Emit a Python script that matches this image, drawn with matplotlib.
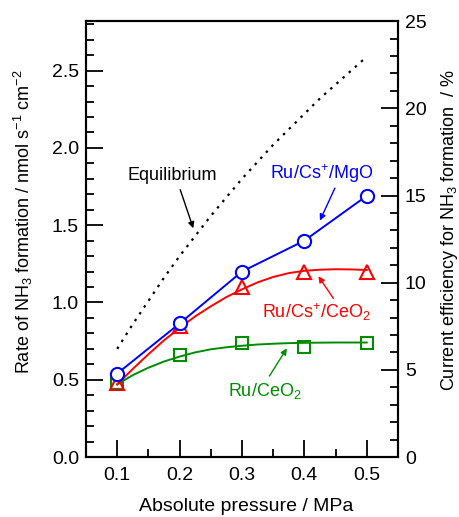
import matplotlib
matplotlib.use("Agg")
import matplotlib.pyplot as plt
from matplotlib.ticker import MultipleLocator

plt.rcParams['font.family'] = ['Liberation Sans', 'DejaVu Sans']
plt.rcParams['mathtext.fontset'] = 'custom'
plt.rcParams['mathtext.rm'] = 'Liberation Sans'
plt.rcParams['mathtext.it'] = 'Liberation Sans:italic'

# measured points
pressure = [0.1, 0.2, 0.3, 0.4, 0.5]
mgo_cs = [0.54, 0.864, 1.20, 1.40, 1.69]
ceo2_cs = [0.48, 0.845, 1.10, 1.20, 1.20]
ceo2 = [0.48, 0.66, 0.735, 0.709, 0.735]

# guide curves
curve_x = [0.1, 0.125, 0.15, 0.175, 0.2, 0.225, 0.25, 0.275, 0.3,
           0.325, 0.35, 0.375, 0.4, 0.425, 0.45, 0.475, 0.5]
ceo2_cs_curve = [0.47, 0.57, 0.665, 0.755, 0.835, 0.91, 0.975, 1.035, 1.085,
                 1.13, 1.165, 1.19, 1.205, 1.212, 1.215, 1.214, 1.21]
ceo2_curve = [0.47, 0.53, 0.578, 0.618, 0.65, 0.677, 0.697, 0.71, 0.72,
              0.728, 0.733, 0.737, 0.739, 0.74, 0.741, 0.741, 0.741]
equil = [0.70, 0.86, 1.01, 1.16, 1.30, 1.43, 1.56, 1.68, 1.80,
         1.91, 2.02, 2.12, 2.22, 2.32, 2.41, 2.50, 2.59]

blue = '#0000ff'
red = '#ff0000'
green = '#008c00'

fig = plt.figure(figsize=(4.6, 5.17), dpi=100)
ax = fig.add_axes([0.187, 0.116, 0.678, 0.843])

ax.plot(curve_x, equil, color='black', lw=1.6, dashes=(1.1, 2.6))

ax.plot(pressure, mgo_cs, color=blue, lw=1.4, marker='o', ms=9.5,
        mfc='white', mec=blue, mew=1.5, zorder=5)
ax.plot(curve_x, ceo2_cs_curve, color=red, lw=1.4, zorder=4)
ax.plot(pressure, ceo2_cs, ls='none', marker='^', ms=10.5,
        mfc='none', mec=red, mew=1.5, zorder=4)
ax.plot(curve_x, ceo2_curve, color=green, lw=1.4, zorder=3)
ax.plot(pressure, ceo2, ls='none', marker='s', ms=8.5,
        mfc='none', mec=green, mew=1.5, zorder=3)

ax.set_xlim(0.05, 0.55)
ax.set_ylim(0, 2.82)
ax.xaxis.set_major_locator(MultipleLocator(0.1))
ax.xaxis.set_minor_locator(MultipleLocator(0.05))
ax.yaxis.set_major_locator(MultipleLocator(0.5))
ax.yaxis.set_minor_locator(MultipleLocator(0.1))
ax.xaxis.set_major_formatter(plt.FuncFormatter(lambda v, p: f"{v:.1f}"))
ax.yaxis.set_major_formatter(plt.FuncFormatter(lambda v, p: f"{v:.1f}"))
ax.tick_params(which='both', direction='in', top=False, right=False,
               labelsize=14, width=1.3)
ax.tick_params(which='major', length=12)
ax.tick_params(which='minor', length=6)
ax.tick_params(axis='x', pad=7)
ax.tick_params(axis='y', pad=5)
for s in ax.spines.values():
    s.set_linewidth(1.5)

ax2 = ax.twinx()
ax2.set_ylim(0, 25)
ax2.yaxis.set_major_locator(MultipleLocator(5))
ax2.yaxis.set_minor_locator(MultipleLocator(1))
ax2.tick_params(which='both', direction='in', labelsize=14, width=1.3, pad=5)
ax2.tick_params(which='major', length=12)
ax2.tick_params(which='minor', length=6)
for s in ax2.spines.values():
    s.set_linewidth(1.5)

ax.set_xlabel('Absolute pressure / MPa', fontsize=14, labelpad=10)
ax.xaxis.set_label_coords(0.515, -0.095)
ax.set_ylabel('Rate of NH$_3$ formation / nmol s$^{-1}$ cm$^{-2}$', fontsize=13)
ax.yaxis.set_label_coords(-0.165, 0.539)
ax2.set_ylabel('Current efficiency for NH$_3$ formation  / %', fontsize=13)
ax2.yaxis.set_label_coords(1.133, 0.52)

# labels and arrows
ax.text(0.188, 1.82, 'Equilibrium', fontsize=13, ha='center', va='center')
ax.annotate('', xy=(0.222, 1.48), xytext=(0.201, 1.73),
            arrowprops=dict(arrowstyle='-|>', color='black', lw=1,
                            mutation_scale=9, shrinkA=0, shrinkB=0))
ax.text(0.428, 1.835, 'Ru/Cs$^{+}$/MgO', fontsize=13, color=blue,
        ha='center', va='center')
ax.annotate('', xy=(0.425, 1.53), xytext=(0.449, 1.74),
            arrowprops=dict(arrowstyle='-|>', color=blue, lw=1,
                            mutation_scale=9, shrinkA=0, shrinkB=0))
ax.text(0.42, 0.935, 'Ru/Cs$^{+}$/CeO$_2$', fontsize=13, color=red,
        ha='center', va='center')
ax.annotate('', xy=(0.4226, 1.17), xytext=(0.4466, 1.026),
            arrowprops=dict(arrowstyle='-|>', color=red, lw=1,
                            mutation_scale=9, shrinkA=0, shrinkB=0))
ax.text(0.336, 0.43, 'Ru/CeO$_2$', fontsize=13, color=green,
        ha='center', va='center')
ax.annotate('', xy=(0.372, 0.703), xytext=(0.344, 0.524),
            arrowprops=dict(arrowstyle='-|>', color=green, lw=1,
                            mutation_scale=9, shrinkA=0, shrinkB=0))

fig.savefig('out.png', dpi=100)
